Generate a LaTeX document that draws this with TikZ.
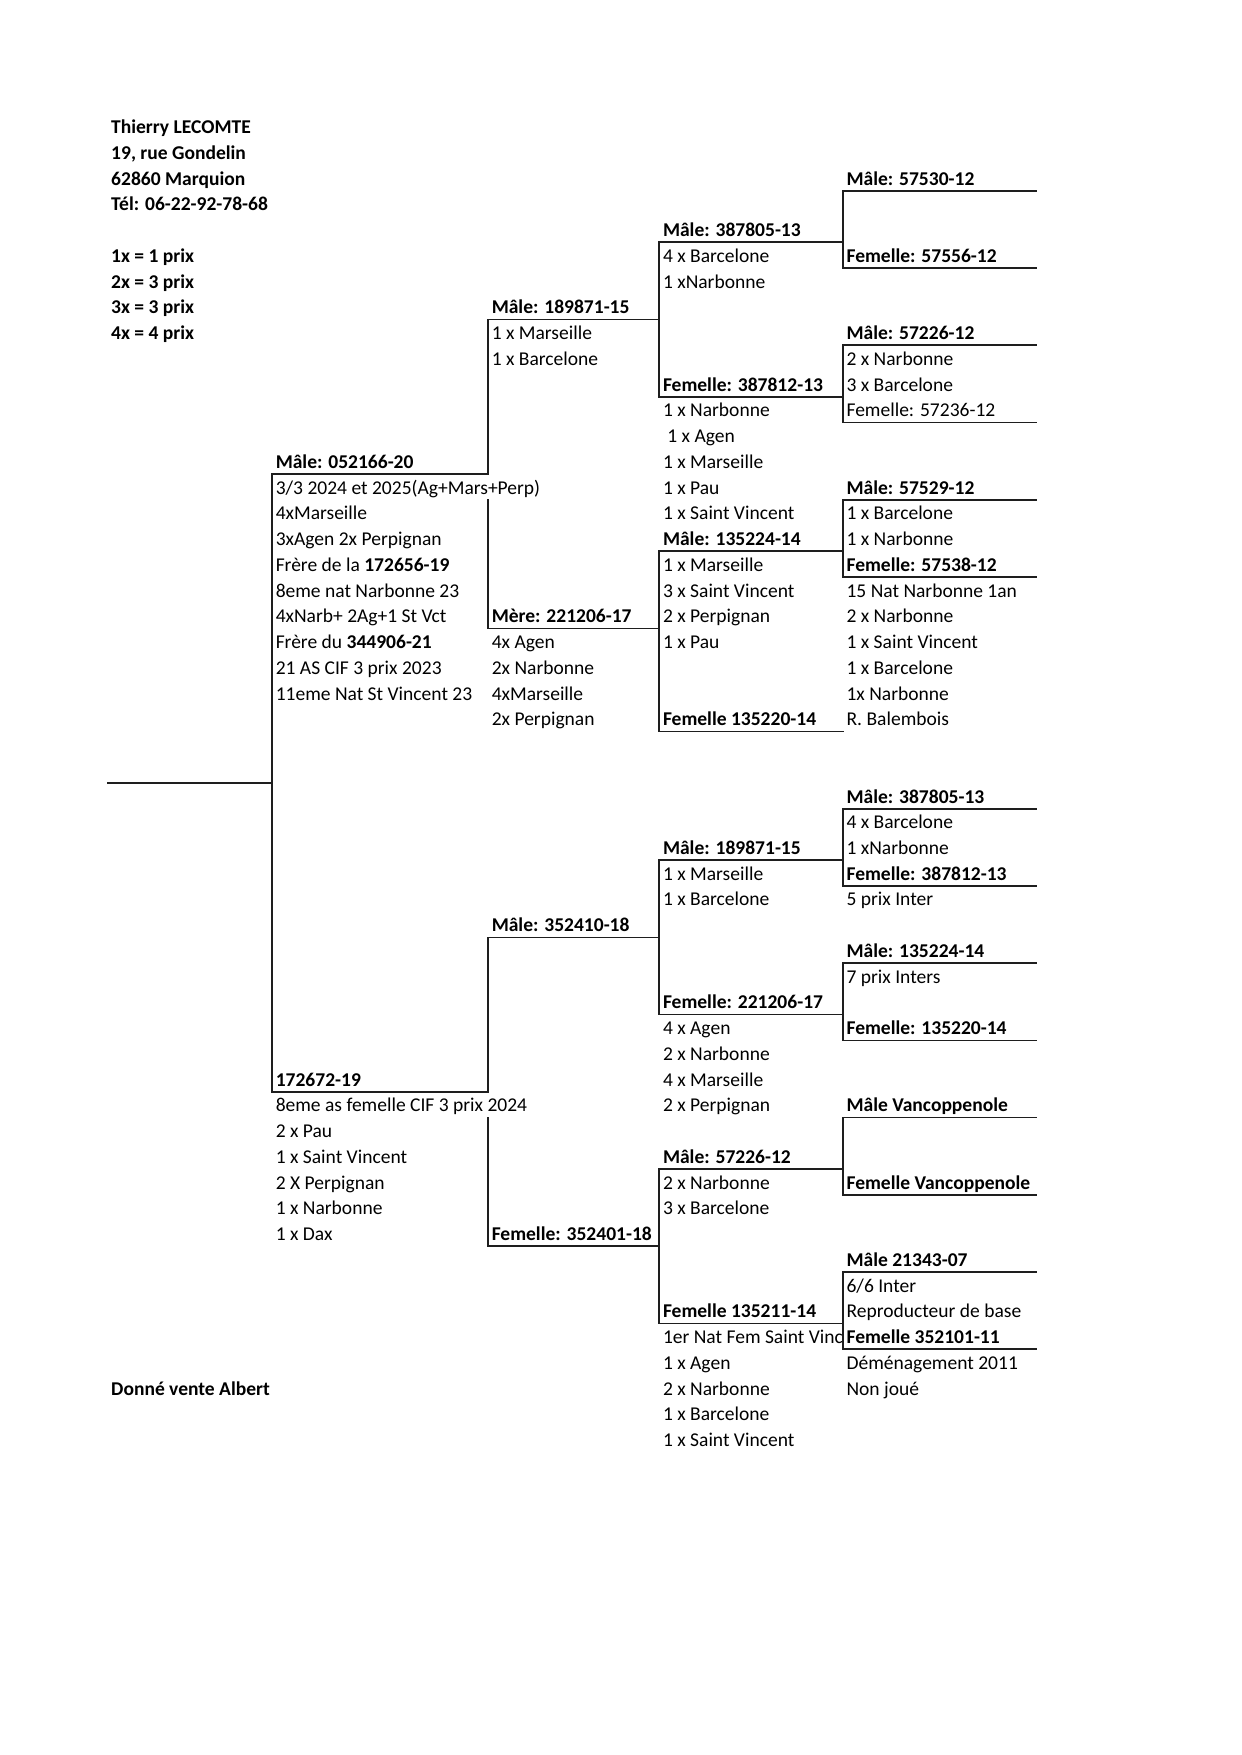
\documentclass[tikz,border=0pt]{standalone}
\usepackage{fontspec}
\setmainfont{Carlito}
\usetikzlibrary{calc}
\definecolor{ink}{HTML}{000000}
\definecolor{rule}{HTML}{1E1E1E}
\newcommand{\cellfont}{\fontsize{9.4}{11}\selectfont}

\begin{document}
\begin{tikzpicture}[x=0.018936cm,y=-0.43553cm,
    cell/.style={anchor=base west,inner sep=0pt,font=\cellfont,text=ink},
    head/.style={cell,font=\cellfont\bfseries},
    link/.style={line width=0.8pt,color=rule,line cap=rect}]
  \useasboundingbox (0,-4.913) rectangle (1109,63.261);

  \coordinate (colE) at (753,0);
  \coordinate (edge) at (926,0);
  \coordinate (root) at (96,25.5);

  % breeder and legend
  \foreach \r/\t in {0/Thierry LECOMTE,1/{19, rue Gondelin},2/62860 Marquion,3/Tél: 06-22-92-78-68,
                     5/1x = 1 prix,6/2x = 3 prix,7/3x = 3 prix,8/4x = 4 prix,49/Donné vente Albert}
    \node[head] (a\r) at (99,\r+0.28) {\t};

  % pigeons, one column per generation
  \foreach \id/\r/\t in {s/13/Mâle: 052166-20,d/37/172672-19}{
    \coordinate (\id) at (243,\r+0.5);
    \node[head] (\id-name) at (246,\r+0.28) {\t};}
  \foreach \id/\r/\t in {ss/7/Mâle: 189871-15,sd/19/Mère: 221206-17,ds/31/Mâle: 352410-18,dd/43/Femelle: 352401-18}{
    \coordinate (\id) at (436,\r+0.5);
    \node[head] (\id-name) at (439,\r+0.28) {\t};}
  \foreach \id/\r/\t in {sss/4/Mâle: 387805-13,ssd/10/Femelle: 387812-13,sds/16/Mâle: 135224-14,sdd/23/Femelle 135220-14,
                         dss/28/Mâle: 189871-15,dsd/34/Femelle: 221206-17,dds/40/Mâle: 57226-12,ddd/46/Femelle 135211-14}{
    \coordinate (\id) at (589,\r+0.5);
    \node[head] (\id-name) at (592,\r+0.28) {\t};}
  \foreach \id/\r/\t in {ssss/2/Mâle: 57530-12,sssd/5/Femelle: 57556-12,ssds/8/Mâle: 57226-12,ssdd/11/{\mdseries Femelle: 57236-12},
                         sdss/14/Mâle: 57529-12,sdsd/17/Femelle: 57538-12,dsss/26/Mâle: 387805-13,dssd/29/Femelle: 387812-13,
                         dsds/32/Mâle: 135224-14,dsdd/35/Femelle: 135220-14,ddss/38/Mâle Vancoppenole,ddsd/41/Femelle Vancoppenole,
                         ddds/44/Mâle 21343-07,dddd/47/Femelle 352101-11}{
    \coordinate (\id) at (753,\r+0.5);
    \node[head] (\id-name) at (756,\r+0.28) {\t};}

  % results under each pigeon
  \foreach \r/\t in {14/{3/3 2024 et 2025(Ag+Mars+Perp)},15/4xMarseille,16/3xAgen 2x Perpignan,
                     17/Frère de la \textbf{172656-19},18/8eme nat Narbonne 23,19/4xNarb+ 2Ag+1 St Vct,
                     20/Frère du \textbf{344906-21},21/21 AS CIF 3 prix 2023,22/11eme Nat St Vincent 23,
                     38/8eme as femelle CIF 3 prix 2024,39/2 x Pau,40/1 x Saint Vincent,41/2 X Perpignan,
                     42/1 x Narbonne,43/1 x Dax}
    \node[cell] (b\r) at (246,\r+0.28) {\t};
  \foreach \r/\t in {8/1 x Marseille,9/1 x Barcelone,20/4x Agen,21/2x Narbonne,22/4xMarseille,23/2x Perpignan}
    \node[cell] (c\r) at (439,\r+0.28) {\t};
  \foreach \r/\t in {5/4 x Barcelone,6/1 xNarbonne,11/1 x Narbonne,12/\ 1 x Agen,13/1 x Marseille,14/1 x Pau,
                     15/1 x Saint Vincent,17/1 x Marseille,18/3 x Saint Vincent,19/2 x Perpignan,20/1 x Pau,
                     29/1 x Marseille,30/1 x Barcelone,35/4 x Agen,36/2 x Narbonne,37/4 x Marseille,38/2 x Perpignan,
                     41/2 x Narbonne,42/3 x Barcelone,47/1er Nat Fem Saint Vinc,48/1 x Agen,49/2 x Narbonne,
                     50/1 x Barcelone,51/1 x Saint Vincent}
    \node[cell] (d\r) at (592,\r+0.28) {\t};
  \foreach \r/\t in {9/2 x Narbonne,10/3 x Barcelone,15/1 x Barcelone,16/1 x Narbonne,18/15 Nat Narbonne 1an,
                     19/2 x Narbonne,20/1 x Saint Vincent,21/1 x Barcelone,22/1x Narbonne,23/R. Balembois,
                     27/4 x Barcelone,28/1 xNarbonne,30/5 prix Inter,33/7 prix Inters,45/{6/6 Inter},
                     46/Reproducteur de base,48/Déménagement 2011,49/Non joué}
    \node[cell] (e\r) at (756,\r+0.28) {\t};

  % lines
  \foreach \id in {ssss,sssd,ssds,ssdd,sdss,sdsd,dsss,dssd,dsds,dsdd,ddss,ddsd,ddds,dddd}
    \draw[link] (\id) -- (\id -| edge);
  \foreach \sire/\dam in {ssss/sssd,ssds/ssdd,sdss/sdsd,dsss/dssd,dsds/dsdd,ddss/ddsd,ddds/dddd,
                          sss/ssd,sds/sdd,dss/dsd,dds/ddd,s/d}
    \draw[link] (\sire) -- (\dam);
  \draw[link] (ss) -- (ss |- s) ($(ss |- s)+(0,1)$) -- (sd);
  \draw[link] (ds) -- (ds |- d) ($(ds |- d)+(0,1)$) -- (dd);
  \foreach \kid/\sire in {sss/ssss,ssd/ssds,sds/sdss,dss/dsss,dsd/dsds,dds/ddss,ddd/ddds,
                          ss/sss,sd/sds,ds/dss,dd/dds,s/ss,d/ds,root/s}
    \draw[link] (\kid) -- (\kid -| \sire);
  \draw[link] (sdd) -- (sdd -| colE);
\end{tikzpicture}
\end{document}
